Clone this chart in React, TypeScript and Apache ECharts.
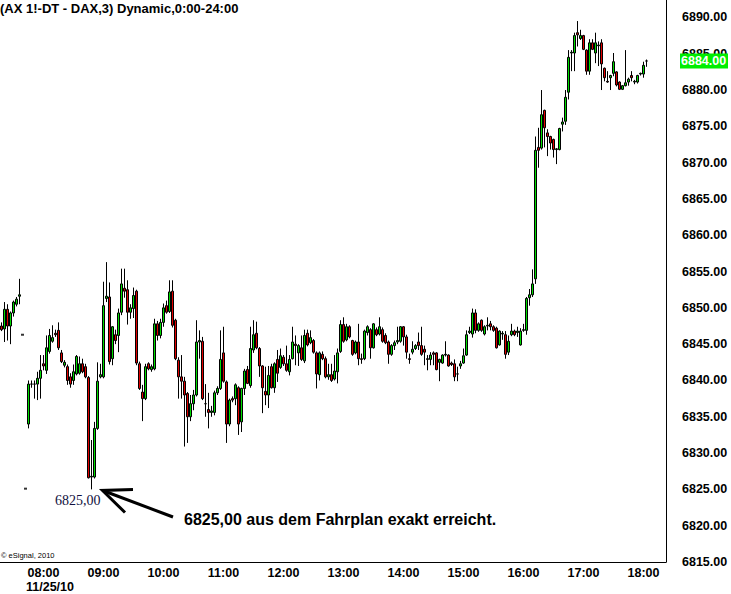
import React, { useEffect, useRef } from 'react';
import * as echarts from 'echarts';

// [open, high, low, close]
type Bar = [number, number, number, number];

const prevDayBars: Bar[] = [
  [6847.5, 6848, 6846.8, 6847],
  [6847.1, 6850.8, 6845.3, 6849.8],
  [6849.8, 6850.5, 6845.5, 6847.5],
  [6847.5, 6849.5, 6845, 6849.3],
  [6849.3, 6851, 6848.8, 6850.8],
  [6850.5, 6851.5, 6850.2, 6851.2],
  [6851.6, 6854, 6850.5, 6851.8],
];
const prevDayTimes = ['21:39', '21:42', '21:45', '21:48', '21:51', '21:54', '21:57'];
const preOpenTimes = ['07:39', '07:42'];
const levelMarks: [string, number][] = [['07:39', 6846.3], ['07:42', 6825.1]];

const dayMorning: Bar[] = [
  [6834, 6840, 6833.4, 6839.5], [6839.5, 6840, 6839, 6839.5], [6839.5, 6840, 6837.5, 6839.5],
  [6839.5, 6841.2, 6837.3, 6840.3], [6840.3, 6843.5, 6837.5, 6841.4], [6842.3, 6843.5, 6841.4, 6842],
  [6841.4, 6846.2, 6840.9, 6844.5], [6844, 6847.1, 6843.7, 6846.2], [6845.4, 6847.6, 6845.2, 6845.9],
  [6846.5, 6847, 6846, 6846.3], [6846.9, 6848, 6844.2, 6844.5], [6843.8, 6844.2, 6842.4, 6842.6],
  [6842.1, 6842.8, 6841.8, 6842.5], [6841.9, 6842.2, 6839.4, 6840], [6840.5, 6841, 6839, 6839.5],
  [6840, 6842.2, 6839.4, 6841.2], [6840.9, 6843.5, 6840.7, 6843.3], [6841, 6843.3, 6840.8, 6842.3],
  [6842.3, 6843, 6841, 6841.2], [6841.9, 6842.3, 6840.3, 6840.5], [6840.4, 6840.6, 6826.5, 6826.6],
  [6826.7, 6831.8, 6825, 6826.8], [6826.7, 6834.3, 6826.5, 6833.4], [6833.4, 6842.5, 6833.2, 6839.9],
  [6840.5, 6842.3, 6840.3, 6840.8], [6840.5, 6853.6, 6840.3, 6850.3], [6851.3, 6856.3, 6850.8, 6851.6],
  [6851.5, 6853.5, 6842.2, 6842.6], [6843, 6847.5, 6842.1, 6847.4], [6846.3, 6847, 6845, 6845.5],
  [6846.2, 6849.9, 6843.9, 6849.3], [6849.4, 6855.4, 6849, 6853.3], [6852.7, 6855.4, 6851.4, 6852.3],
  [6852.5, 6853.8, 6847.7, 6849.4], [6849.4, 6850.5, 6848.5, 6850], [6849.9, 6852.8, 6848.6, 6851.7],
  [6852.3, 6852.5, 6842.1, 6842.4], [6842.3, 6842.6, 6838.7, 6838.9], [6838.4, 6839.4, 6834.4, 6837.5],
  [6837.5, 6842.3, 6837.3, 6841.9], [6842.3, 6842.5, 6841.4, 6841.6], [6841.5, 6842.2, 6841.2, 6841.9],
  [6841.6, 6848.5, 6841.4, 6847.8], [6847.8, 6848.2, 6845.5, 6846.2], [6846.2, 6848.5, 6845.8, 6848],
  [6848, 6850.6, 6847.4, 6850], [6850.3, 6851, 6849.2, 6849.4], [6849.5, 6853.8, 6849.3, 6852.2],
  [6852.3, 6853.8, 6847.3, 6847.6], [6848.3, 6848.5, 6842.8, 6843], [6842.8, 6843.2, 6837.5, 6840.5],
];

const dayMidday: Bar[] = [
  [6840.5, 6843.5, 6837.5, 6839.9], [6839.9, 6840.5, 6830.9, 6838], [6838.2, 6838.4, 6831.4, 6835],
  [6835, 6838, 6834.4, 6836.8], [6836.8, 6838.7, 6835.9, 6838], [6838, 6848.3, 6837.8, 6845.3],
  [6845.3, 6846.9, 6843, 6845.5], [6845.4, 6846, 6837.3, 6837.5], [6836.8, 6839.5, 6835, 6836.8],
  [6836, 6838.3, 6833.4, 6835.6], [6835.6, 6836.5, 6835, 6835.8], [6835.6, 6838.6, 6835.2, 6838.3],
  [6838.3, 6839.2, 6838, 6838.9], [6838.9, 6846.9, 6838.7, 6842.9], [6843.8, 6847.4, 6839.7, 6839.9],
  [6839.8, 6840, 6831.4, 6834], [6834, 6837.5, 6833.7, 6837.3], [6837.5, 6837.8, 6837, 6837.3],
  [6837.5, 6839.6, 6836.6, 6839.4], [6839, 6839.2, 6832.5, 6834], [6834.3, 6839, 6832.9, 6838.9],
  [6838.9, 6841.6, 6838, 6841.3], [6841.5, 6842, 6839.5, 6839.6], [6839.3, 6847.4, 6839, 6844.4],
  [6844.2, 6848.3, 6843.8, 6846.3], [6846.5, 6848.1, 6844.3, 6844.5], [6844.4, 6844.6, 6840.5, 6842],
  [6842, 6842.1, 6835.5, 6839], [6838.5, 6841.9, 6836.6, 6838], [6838, 6842, 6836.2, 6840.7],
  [6841.9, 6842.3, 6838.9, 6839], [6839, 6842.5, 6838.3, 6842.3], [6842.9, 6844.2, 6839.8, 6841],
  [6841.8, 6844.4, 6841.6, 6843.4], [6843.2, 6843.5, 6842, 6842.3], [6842.3, 6844.8, 6841.2, 6841.4],
  [6841.2, 6843.5, 6840.7, 6842.9], [6843, 6847.4, 6842.9, 6845.3], [6845, 6846.2, 6842.1, 6844.8],
  [6843.8, 6845, 6842, 6844.8], [6844.5, 6846.2, 6842.7, 6842.9], [6842.7, 6847, 6842.4, 6846.2],
  [6846.5, 6847, 6844.7, 6844.9], [6845.2, 6846.9, 6845, 6845.9], [6845.5, 6845.7, 6843.7, 6843.9],
  [6843.8, 6844, 6838.9, 6840.9], [6840.8, 6844, 6840, 6843.8], [6843.6, 6844, 6842.8, 6843],
  [6843, 6843.3, 6840.3, 6840.5], [6840.5, 6842.3, 6840.1, 6840.8], [6840.8, 6842.3, 6839.8, 6840],
  [6840.2, 6843.5, 6840, 6841.3], [6841.2, 6844.4, 6839.6, 6843.8], [6844, 6848.3, 6843.8, 6847.7],
  [6847.7, 6848.7, 6845.2, 6845.4], [6845.6, 6847.8, 6845.4, 6847.4], [6847.4, 6847.6, 6845.8, 6846],
];

const dayAfternoon: Bar[] = [
  [6845.5, 6845.6, 6843.4, 6843.6], [6843.8, 6845.5, 6843.6, 6845.3], [6845.3, 6847.8, 6842.1, 6843],
  [6843, 6843.7, 6842.3, 6842.9], [6843, 6847, 6842.8, 6846.8], [6846.6, 6847.6, 6846.2, 6847.4],
  [6847, 6847.2, 6843, 6844.5], [6844.5, 6847.9, 6844.4, 6847.8], [6847, 6847.3, 6846.1, 6846.3],
  [6846.4, 6848.7, 6846.2, 6847.4], [6847, 6847.3, 6845.2, 6845.4], [6846.2, 6846.5, 6845, 6845.2],
  [6845.3, 6845.5, 6842.3, 6843.6], [6843.6, 6845, 6843.4, 6844.8], [6844.8, 6845.5, 6844.2, 6845.2],
  [6845.3, 6847.4, 6845, 6845.5], [6845.4, 6847.5, 6845.2, 6847.4], [6847.4, 6847.5, 6844.8, 6846],
  [6846, 6846.3, 6843, 6843.9], [6843, 6843.7, 6842.3, 6842.9], [6843.9, 6845.4, 6843.6, 6844.3],
  [6844.4, 6845, 6844.2, 6844.8], [6845.3, 6846.6, 6844.2, 6844.8], [6844.8, 6847.4, 6843.4, 6843.6],
  [6844.3, 6844.8, 6842.1, 6843.9], [6843, 6843.5, 6841.4, 6842.9], [6842.9, 6843.9, 6842.1, 6843.5],
  [6843.8, 6844, 6842.1, 6843.6], [6843.8, 6843.9, 6841.4, 6841.5], [6842.5, 6843, 6839.9, 6842.9],
  [6842.4, 6843.6, 6842.3, 6843.5], [6843.5, 6845.4, 6843.3, 6843.6], [6843.5, 6843.6, 6841.9, 6842],
  [6842.4, 6842.6, 6842, 6842.2], [6842.3, 6842.9, 6839.9, 6840.5], [6840.9, 6841.9, 6839.9, 6840.9],
  [6842, 6842.7, 6841.6, 6842.3], [6842.4, 6844.4, 6842.3, 6843.4], [6843.5, 6846.9, 6843.4, 6846.3],
  [6846.6, 6847.4, 6846.4, 6846.8], [6846.4, 6849.9, 6845.9, 6849.3], [6849.3, 6849.8, 6846.5, 6846.9],
  [6846.9, 6848, 6846.7, 6847.8], [6848.3, 6848.4, 6846.7, 6846.9], [6846.4, 6847.6, 6846.2, 6847.4],
  [6847.5, 6848.7, 6846.9, 6847.6], [6847.8, 6848.2, 6846.9, 6847.4], [6847.4, 6847.6, 6846.7, 6846.9],
  [6847.2, 6847.4, 6844.4, 6844.5], [6844.9, 6846.9, 6844.8, 6846.8], [6846.4, 6846.8, 6845.6, 6846.5],
  [6846.3, 6846.8, 6843, 6843.6], [6843.9, 6846.2, 6843.5, 6845.4], [6846.3, 6847.8, 6846.1, 6846.8],
  [6846.8, 6847, 6846.1, 6846.3], [6846.6, 6847.4, 6846, 6846.8], [6844.9, 6847.2, 6844.8, 6846.8],
  [6846.9, 6847.8, 6846.7, 6847], [6846.9, 6851.5, 6846.3, 6851.3],
];

const dayEvening: Bar[] = [
  [6851.4, 6852.6, 6850.3, 6851.8], [6851.8, 6855.3, 6851.5, 6853.3], [6854, 6873.6, 6853.3, 6871.7],
  [6872.1, 6874.8, 6869.3, 6871.7], [6872, 6880, 6871.8, 6876.6], [6877.2, 6877.3, 6872.1, 6874.8],
  [6874.1, 6874.6, 6870.9, 6873.6], [6873.6, 6873.7, 6871.8, 6872.7], [6873.2, 6873.3, 6870.7, 6871.8],
  [6871.8, 6872, 6869.8, 6871.9], [6871.8, 6874.8, 6871.7, 6874.7], [6875.3, 6876.2, 6874.3, 6875.6],
  [6875.7, 6880, 6875.2, 6879], [6879.7, 6885.5, 6878.7, 6884.5], [6885.1, 6885.5, 6882.6, 6885.2],
  [6885.1, 6887.9, 6882.6, 6887.5], [6887.9, 6889.5, 6886, 6887.6], [6887.1, 6888.3, 6886.9, 6887.5],
  [6887.5, 6887.6, 6885.5, 6885.6], [6885.5, 6885.6, 6882.1, 6882.6], [6882.6, 6887, 6882.1, 6886.5],
  [6886.5, 6887, 6885.5, 6885.6], [6885.1, 6887.9, 6883.7, 6886.5], [6886.1, 6886.7, 6883.3, 6886.2],
  [6886.5, 6887, 6880, 6883.6], [6883, 6883.1, 6881.2, 6881.7], [6881.2, 6882.6, 6881, 6881.1],
  [6881.7, 6882.1, 6880, 6882], [6882.3, 6885.1, 6881.9, 6883.9], [6882.5, 6882.6, 6880.5, 6880.7],
  [6881.1, 6881.2, 6880, 6880.1], [6880.1, 6880.7, 6880, 6880.6], [6880.6, 6885.5, 6880.5, 6881],
  [6881.1, 6881.7, 6880.6, 6881.5], [6882, 6882.6, 6881.2, 6881.7], [6881.1, 6881.4, 6880.8, 6881.2],
  [6881.1, 6882.1, 6880.9, 6882], [6882.2, 6882.4, 6882, 6882.3], [6882.2, 6883.9, 6881.7, 6883.4],
  [6884, 6884.2, 6883.2, 6884],
];

const dayBars: Bar[] = [...dayMorning, ...dayMidday, ...dayAfternoon, ...dayEvening];

// 3-minute bar time labels (category names)
function barTimes(h: number, m: number, count: number): string[] {
  const out: string[] = [];
  let t = h * 60 + m;
  for (let i = 0; i < count; i++) {
    const hh = Math.floor(t / 60);
    const mm = t % 60;
    out.push(String(hh).padStart(2, '0') + ':' + String(mm).padStart(2, '0'));
    t += 3;
  }
  return out;
}
const dayTimes = barTimes(7, 45, dayBars.length);
const padTimes = barTimes(18, 6, 6);
const categories = [...prevDayTimes, ...preOpenTimes, ...dayTimes, ...padTimes];

const yTicks = { min: 6815, max: 6892.4, step: 5 };
const lastClose = dayBars[dayBars.length - 1][3];

const TITLE = '(AX 1!-DT - DAX,3) Dynamic,0:00-24:00';
const DATE_LABEL = '11/25/10';
const COPYRIGHT = '\u00A9 eSignal, 2010';
const LOW_LABEL = '6825,00';
const NOTE = '6825,00 aus dem Fahrplan exakt erreicht.';

const FONT = "'Liberation Sans', Arial, Helvetica, sans-serif";
const GREEN = '#00dd00';
const RED = '#e00000';

export default function App() {
  const ref = useRef<HTMLDivElement>(null);
  useEffect(() => {
    if (!ref.current) return;
    const chart = echarts.init(ref.current, undefined, { renderer: 'svg' });

    const candleData: number[][] = [];
    prevDayBars.forEach((b, i) => candleData.push([i, b[0], b[3], b[2], b[1]]));
    const dayStart = prevDayTimes.length + preOpenTimes.length;
    dayBars.forEach((b, i) => candleData.push([dayStart + i, b[0], b[3], b[2], b[1]]));

    const baseGraphic: any[] = [
      {
        type: 'text', x: 0, y: 8,
        style: { text: TITLE, fill: '#000', font: `bold 13px ${FONT}`, textAlign: 'left', textVerticalAlign: 'middle' },
      },
      {
        type: 'text', x: 1, y: 555,
        style: { text: COPYRIGHT, fill: '#000', font: `7.5px ${FONT}`, textAlign: 'left', textVerticalAlign: 'middle' },
      },
      {
        type: 'text', x: 26, y: 587,
        style: { text: DATE_LABEL, fill: '#000', font: `bold 12.5px ${FONT}`, textAlign: 'left', textVerticalAlign: 'middle' },
      },
      {
        type: 'text', x: 55, y: 500,
        style: { text: LOW_LABEL, fill: '#101040', font: `14px 'Liberation Serif', 'Times New Roman', serif`, textAlign: 'left', textVerticalAlign: 'middle' },
      },
      {
        type: 'line',
        shape: { x1: 173, y1: 517, x2: 104, y2: 491 },
        style: { stroke: '#000', lineWidth: 3 },
      },
      {
        type: 'polyline',
        shape: { points: [[133, 489.5], [102.5, 490.5], [125, 512.5]] },
        style: { stroke: '#000', lineWidth: 3, fill: null },
      },
      {
        type: 'text', x: 184, y: 519,
        style: { text: NOTE, fill: '#000', font: `bold 16px ${FONT}`, textAlign: 'left', textVerticalAlign: 'middle' },
      },
    ];

    const option: any = {
      animation: false,
      backgroundColor: '#ffffff',
      grid: { left: 0, top: 0, width: 666, height: 562, containLabel: false },
      xAxis: {
        type: 'category',
        data: categories,
        boundaryGap: true,
        axisLine: { show: true, lineStyle: { color: '#000', width: 1 } },
        axisTick: { show: false },
        splitLine: { show: false },
        axisLabel: {
          interval: (_i: number, v: string) => v.endsWith(':00') && dayTimes.indexOf(v) >= 0,
          margin: 4,
          color: '#000',
          fontWeight: 'bold',
          fontSize: 12.5,
          fontFamily: FONT,
        },
      },
      yAxis: {
        type: 'value',
        position: 'right',
        min: yTicks.min,
        max: yTicks.max,
        interval: yTicks.step,
        axisLine: { show: true, lineStyle: { color: '#000', width: 1 } },
        axisTick: { show: false },
        splitLine: { show: false },
        axisLabel: {
          margin: 16,
          color: '#000',
          fontWeight: 'bold',
          fontSize: 12.5,
          fontFamily: FONT,
          formatter: (v: number) =>
            Math.abs(v / yTicks.step - Math.round(v / yTicks.step)) < 1e-6 ? v.toFixed(2) : '',
        },
      },
      series: [
        {
          type: 'candlestick',
          data: candleData,
          dimensions: ['slot', 'open', 'close', 'lowest', 'highest'],
          encode: { x: 'slot', y: ['open', 'close', 'lowest', 'highest'] },
          barWidth: 3,
          itemStyle: {
            color: GREEN,
            color0: RED,
            borderColor: '#000',
            borderColor0: '#000',
            borderWidth: 1,
          },
        },
        {
          type: 'scatter',
          data: levelMarks,
          symbol: 'rect',
          symbolSize: [3, 2],
          itemStyle: { color: '#000' },
          silent: true,
        },
      ],
      graphic: baseGraphic,
    };
    chart.setOption(option);

    // current-price tag on the right axis, positioned from the last close
    const yPix = chart.convertToPixel({ yAxisIndex: 0 }, lastClose) as number;
    const priceTag: any[] = [
      {
        type: 'rect', z: 100,
        shape: { x: 680, y: yPix - 7.5, width: 48, height: 15 },
        style: { fill: '#00ee00' },
      },
      {
        type: 'text', z: 101, x: 681, y: yPix + 0.5,
        style: { text: lastClose.toFixed(2), fill: '#ffffff', font: `bold 12.5px ${FONT}`, textAlign: 'left', textVerticalAlign: 'middle' },
      },
    ];
    chart.setOption({ graphic: [...baseGraphic, ...priceTag] });
    return () => chart.dispose();
  }, []);

  return (
    <div
      ref={ref}
      style={{ position: 'fixed', left: 0, top: 0, width: 731, height: 594, background: '#fff' }}
    />
  );
}
